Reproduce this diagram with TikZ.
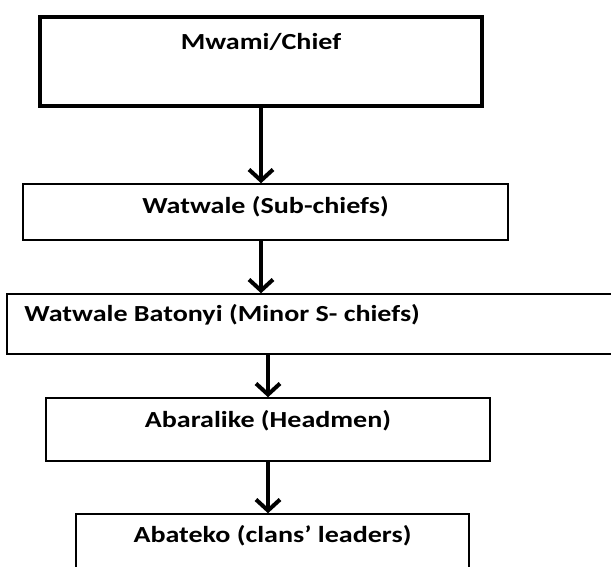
\documentclass[tikz,border=0pt]{standalone}
\usepackage{fontspec}
\setmainfont{Carlito}[FakeStretch=1.22]
\usetikzlibrary{arrows.meta}

\begin{document}
\begin{tikzpicture}[x=1pt, y=-1pt, inner sep=0pt,
    every node/.style={font=\bfseries\fontsize{23}{27}\selectfont},
    rankbox/.style={draw, line width=1.5pt},
    pointer/.style={-{Straight Barb[length=11pt, width=24pt]}, line width=4pt}]

    \path[use as bounding box, clip] (0,0) rectangle (611,567);

    % Box for the Mwami
    \node[draw, line width=4pt, minimum width=442pt, minimum height=89pt] (chief) at (261,61.5) {};
    \node (chieftext) at ([yshift=-27pt]chief.north) {Mwami/Chief};

    % Watwale
    \node[rankbox, minimum width=485pt, minimum height=56pt] (sub) at (265.5,212) {};
    \node (subtext) at ([yshift=-23pt]sub.north) {Watwale (Sub-chiefs)};

    % Watwale Batonyi (runs past the right edge)
    \node[rankbox, minimum width=617pt, minimum height=60pt] (minor) at (315.5,324) {};
    \node[anchor=west] (minortext) at ([xshift=18pt, yshift=-22pt]minor.north west) {Watwale Batonyi (Minor S- chiefs)};

    % Abaralike
    \node[rankbox, minimum width=444pt, minimum height=63pt] (headmen) at (268,429.5) {};
    \node (headmentext) at ([yshift=-23pt]headmen.north) {Abaralike (Headmen)};

    % Abateko (cut off at the bottom)
    \node[rankbox, minimum width=393pt, minimum height=65pt] (clans) at (272.5,546.5) {};
    \node (clanstext) at ([yshift=-22pt]clans.north) {Abateko (clans’ leaders)};

    % arrows down the ranks
    \draw[pointer] (chief.south) -- (chief.south |- sub.north);
    \draw[pointer] (chief.south |- sub.south) -- (chief.south |- minor.north);
    \draw[pointer] (headmen.north |- minor.south) -- (headmen.north);
    \draw[pointer] (headmen.south) -- (headmen.south |- clans.north);

\end{tikzpicture}
\end{document}
